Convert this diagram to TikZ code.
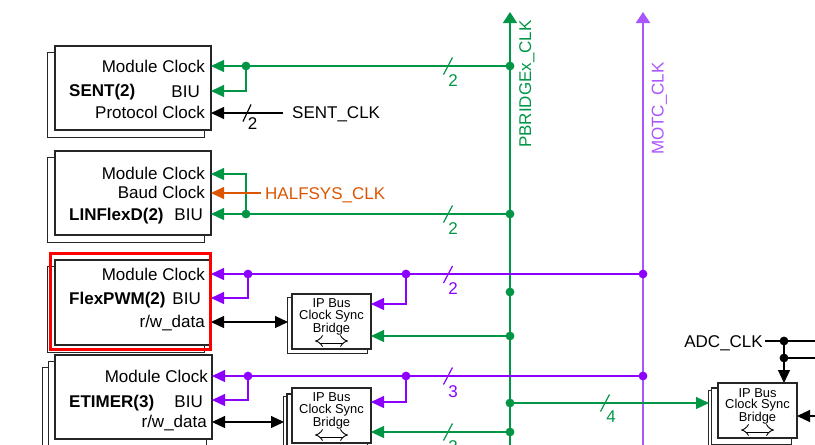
\documentclass[tikz,border=0pt]{standalone}
\usepackage{fontspec}
\setmainfont{Liberation Sans}
\usetikzlibrary{arrows.meta,backgrounds,calc}
\definecolor{cgreen}{RGB}{0,150,70}
\definecolor{cpurple}{RGB}{140,0,255}
\definecolor{cpurplel}{RGB}{170,85,255}
\definecolor{corange}{RGB}{220,85,0}
\tikzset{
  blk/.style={draw=black!85, fill=white, line width=1.1pt, minimum width=156pt, minimum height=84pt, inner sep=0pt},
  shd/.style={draw=black!85, fill=white, line width=1.1pt},
  brg/.style={draw=black!85, fill=white, line width=1.1pt, minimum width=79pt, minimum height=55pt, inner sep=0pt},
  lbl/.style={font=\fontsize{17}{20}\selectfont, inner sep=0pt},
  bold/.style={font=\fontsize{17}{20}\selectfont\bfseries, inner sep=0pt},
  btxt/.style={font=\fontsize{12.9}{11.8}\selectfont, align=center, inner sep=0pt},
  tip/.style={-{Triangle[length=13pt,width=12pt]}},
  dtip/.style={{Triangle[length=13pt,width=12pt]}-{Triangle[length=13pt,width=12pt]}},
  uptip/.style={-{Triangle[length=11pt,width=14pt]}},
  gw/.style={draw=cgreen, line width=1.2pt},
  pw/.style={draw=cpurple, line width=1.2pt},
  kw/.style={draw=black, line width=1.2pt},
  ow/.style={draw=corange, line width=1.2pt},
  dbl/.style={draw=black, line width=0.9pt, double distance=3.2pt, {Implies}-{Implies}},
}
\newcommand\jdot[2]{\fill[#1] (#2) circle (4.4pt);}
\begin{document}
\begin{tikzpicture}[x=1pt,y=-1pt]
\useasboundingbox (0,0) rectangle (815,445);
% ---------- blocks ----------
\node[blk] (sent) at (133,88) {};
\node[blk] (lin) at (133,193) {};
\node[blk, minimum height=85pt] (pwm) at (133,302.5) {};
\node[blk, minimum width=157pt] (etim) at (133.5,397) {};
\node[brg] (b1) at (331.5,321.5) {};
\node[brg] (b2) at (331.5,415.5) {};
\node[brg] (b3) at (757.5,410.5) {};
\begin{scope}[on background layer]
 \draw[shd] ($(sent.south west)+(-7,7)$) rectangle ($(sent.north east)+(-7,7)$);
 \draw[shd] ($(lin.south west)+(-7,7)$) rectangle ($(lin.north east)+(-7,7)$);
 \draw[shd] ($(pwm.south west)+(-7,7)$) rectangle ($(pwm.north east)+(-7,7)$);
 \draw[shd] ($(etim.south west)+(-12,13)$) rectangle ($(etim.north east)+(-12,13)$);
 \draw[shd] ($(etim.south west)+(-6,7)$) rectangle ($(etim.north east)+(-6,7)$);
 \draw[shd] ($(b1.south west)+(-4,4)$) rectangle ($(b1.north east)+(-4,4)$);
 \draw[shd] ($(b2.south west)+(-8,9)$) rectangle ($(b2.north east)+(-8,9)$);
 \draw[shd] ($(b2.south west)+(-4.5,6.5)$) rectangle ($(b2.north east)+(-4.5,6.5)$);
 \draw[shd] ($(b3.south west)+(-9,8)$) rectangle ($(b3.north east)+(-9,8)$);
 \draw[shd] ($(b3.south west)+(-6,5.5)$) rectangle ($(b3.north east)+(-6,5.5)$);
\end{scope}
% ---------- block texts ----------
\node[lbl, anchor=base east] (sentmc) at (205,72) {Module Clock};
\node[lbl, anchor=base east] (sentbiu) at (200,97) {BIU};
\node[lbl, anchor=base east] (sentpc) at (205,118) {Protocol Clock};
\node[bold, anchor=base west] (sentname) at (69,96) {SENT(2)};
\node[lbl, anchor=base east] (linmc) at (205,179) {Module Clock};
\node[lbl, anchor=base east] (linbd) at (205,198) {Baud Clock};
\node[lbl, anchor=base east] (linbiu) at (203,220) {BIU};
\node[bold, anchor=base west] (linname) at (69,220) {LINFlexD(2)};
\node[lbl, anchor=base east] (pwmmc) at (205,280) {Module Clock};
\node[lbl, anchor=base east] (pwmbiu) at (201,304) {BIU};
\node[lbl, anchor=base east] (pwmrw) at (205,327) {r/w\_data};
\node[bold, anchor=base west] (pwmname) at (69,304) {FlexPWM(2)};
\node[lbl, anchor=base east] (etimmc) at (208,382) {Module Clock};
\node[lbl, anchor=base east] (etimbiu) at (203,407) {BIU};
\node[lbl, anchor=base east] (etimrw) at (207,427) {r/w\_data};
\node[bold, anchor=base west] (etimname) at (69,407) {ETIMER(3)};
% bridge texts
\node[btxt, anchor=north] (b1t) at (331.5,298.5) {IP Bus\\Clock Sync\\Bridge};
\node[btxt, anchor=north] (b2t) at (331.5,392.5) {IP Bus\\Clock Sync\\Bridge};
\node[btxt, anchor=north] (b3t) at (757.5,388) {IP Bus\\Clock Sync\\Bridge};
\coordinate (b1l) at (315,341); \coordinate (b1r) at (348,341);
\coordinate (b2l) at (315,435); \coordinate (b2r) at (348,435);
\coordinate (b3l) at (741,430); \coordinate (b3r) at (774,430);
\draw[dbl] (b1l) -- (b1r);
\draw[dbl] (b2l) -- (b2r);
\draw[dbl] (b3l) -- (b3r);
% ---------- buses ----------
\coordinate (pbBot) at (510,445); \coordinate (pbTop) at (510,12);
\coordinate (mcBot) at (643,445); \coordinate (mcTop) at (643,12);
\draw[gw, uptip] (pbBot) -- (pbTop);
\draw[draw=cpurplel, line width=2pt, uptip] (mcBot) -- (mcTop);
\node[lbl, text=cgreen, rotate=90, anchor=base east] (pbl) at (531,20) {PBRIDGEx\_CLK};
\node[lbl, text=cpurplel, rotate=90, anchor=base east] (mtl) at (663.5,62) {MOTC\_CLK};
% ---------- SENT ----------
\coordinate (g66) at (510,66); \coordinate (j66) at (246,66);
\coordinate (sentMC) at (211,66); \coordinate (sentBI) at (211,91);
\draw[gw, tip] (g66) -- (sentMC);
\draw[gw, tip] (j66) |- (sentBI);
\draw[gw] (443.5,74.5) -- (452.5,57.5);
\node[lbl, text=cgreen] (n66) at (453,80.5) {2};
\node[lbl, anchor=base west] (sentclk) at (292,118) {SENT\_CLK};
\coordinate (sc) at (283,113); \coordinate (sentPC) at (211,113);
\draw[kw, tip] (sc) -- (sentPC);
\draw[kw] (243,121.5) -- (251,104.5);
\node[lbl] (n113) at (252.5,124) {2};
% ---------- LINFlexD ----------
\coordinate (g214) at (510,214); \coordinate (j214) at (246,214);
\coordinate (linBI) at (211,214); \coordinate (linMC) at (211,174);
\draw[gw, tip] (g214) -- (linBI);
\draw[gw, tip] (j214) |- (linMC);
\draw[gw] (443.5,222.5) -- (452.5,205.5);
\node[lbl, text=cgreen] (n214) at (453,229) {2};
\node[lbl, anchor=base west, text=corange] (half) at (265,199) {HALFSYS\_CLK};
\coordinate (hs) at (261,193); \coordinate (linBD) at (211,193);
\draw[ow, tip] (hs) -- (linBD);
% ---------- FlexPWM ----------
\coordinate (p274) at (643,274); \coordinate (q274a) at (248,274); \coordinate (q274b) at (406,274);
\coordinate (pwmMC) at (211,274); \coordinate (pwmBI) at (211,298); \coordinate (b1P) at (371,304);
\draw[pw, tip] (p274) -- (pwmMC);
\draw[pw, tip] (q274a) |- (pwmBI);
\draw[pw, tip] (q274b) |- (b1P);
\draw[pw] (443.5,283) -- (452.5,266);
\node[lbl, text=cpurple] (n274) at (453,289) {2};
\coordinate (pwmRW) at (211,322); \coordinate (b1RW) at (288,322);
\draw[kw, dtip] (pwmRW) -- (b1RW);
\coordinate (g336) at (510,336); \coordinate (b1G) at (371,336);
\draw[gw, tip] (g336) -- (b1G);
% ---------- ETIMER ----------
\coordinate (p376) at (643,376); \coordinate (q376a) at (248,376); \coordinate (q376b) at (406,376);
\coordinate (etimMC) at (212,376); \coordinate (etimBI) at (212,400); \coordinate (b2P) at (371,402);
\draw[pw, tip] (p376) -- (etimMC);
\draw[pw, tip] (q376a) |- (etimBI);
\draw[pw, tip] (q376b) |- (b2P);
\draw[pw] (443.5,384.5) -- (452.5,367.5);
\node[lbl, text=cpurple] (n376) at (453,392) {3};
\coordinate (etimRW) at (212,422); \coordinate (b2RW) at (284,422);
\draw[kw, dtip] (etimRW) -- (b2RW);
\coordinate (g432) at (510,432); \coordinate (b2G) at (371,432);
\draw[gw, tip] (g432) -- (b2G);
\draw[gw] (443.5,440.5) -- (452.5,423.5);
\node[lbl, text=cgreen] (n432) at (453,447) {3};
% ---------- to ADC bridge ----------
\coordinate (g403) at (510,403); \coordinate (b3G) at (709,403);
\draw[gw, tip] (g403) -- (b3G);
\draw[gw] (600.5,411.5) -- (609.5,394.5);
\node[lbl, text=cgreen] (n403) at (611,417) {4};
\coordinate (g292) at (510,292);
\node[lbl, anchor=base east] (adc) at (763,347) {ADC\_CLK};
\coordinate (a0) at (765,341); \coordinate (a1) at (784,341); \coordinate (a2) at (784,358);
\coordinate (e1) at (815,341); \coordinate (e2) at (815,358); \coordinate (e3) at (815,416);
\coordinate (b3T) at (784,383); \coordinate (b3E) at (797,416);
\draw[kw] (a0) -- (e1);
\draw[kw] (a2) -- (e2);
\draw[kw, tip] (a1) -- (b3T);
\draw[kw, tip] (e3) -- (b3E);
% ---------- junction dots ----------
\jdot{cgreen}{j66} \jdot{cgreen}{g66} \jdot{cgreen}{j214} \jdot{cgreen}{g214}
\jdot{cgreen}{g292} \jdot{cgreen}{g336} \jdot{cgreen}{g403} \jdot{cgreen}{g432}
\jdot{cpurple}{q274a} \jdot{cpurple}{q274b} \jdot{cpurple}{p274}
\jdot{cpurple}{q376a} \jdot{cpurple}{q376b} \jdot{cpurple}{p376}
\jdot{black}{a1} \jdot{black}{a2}
% ---------- highlight ----------
\node[draw=red, line width=3pt, minimum width=160pt, minimum height=96pt, inner sep=0pt] (hl) at (130,301.5) {};
\end{tikzpicture}
\end{document}
